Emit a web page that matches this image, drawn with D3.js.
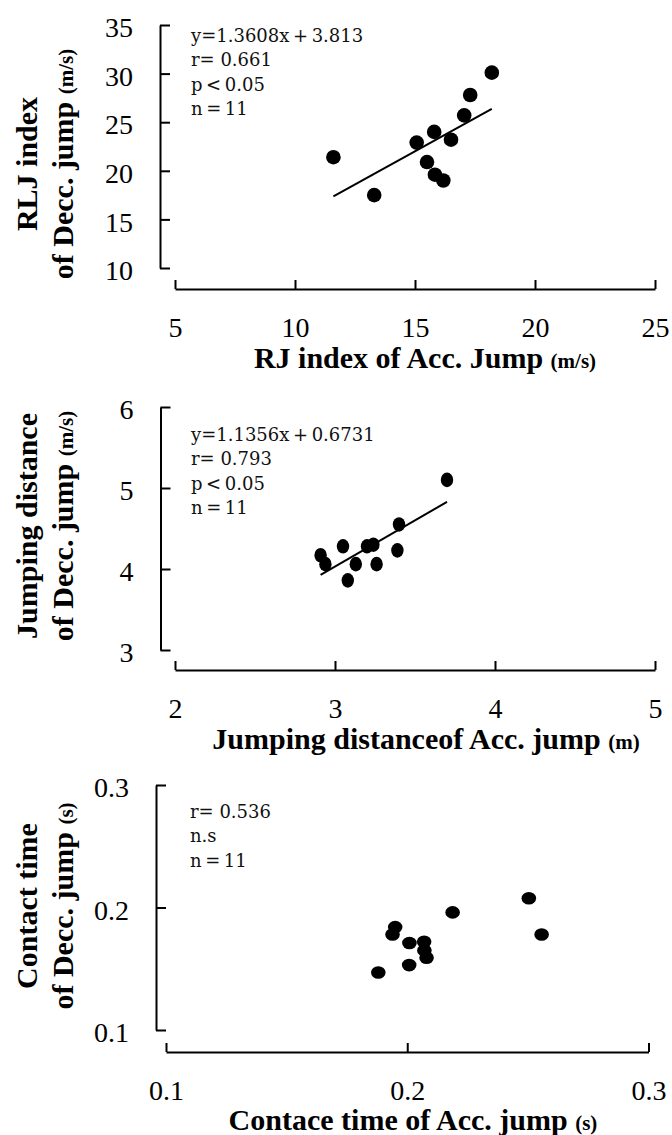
<!DOCTYPE html>
<html>
<head>
<meta charset="utf-8">
<script src="https://cdn.jsdelivr.net/npm/d3@7"></script>
<style>
  html, body { margin: 0; padding: 0; background: #fff; }
  svg { display: block; }
</style>
</head>
<body>
<svg id="chart" width="672" height="1135"></svg>
<script>
// ---------------- DATA ----------------
// Panel 1: RJ index (Acc. jump) vs RLJ index (Decc. jump), m/s
const rjAcc   = [11.6, 13.3, 15.07, 15.8, 16.5, 15.5, 15.83, 16.18, 17.05, 17.3, 18.2];
const rljDecc = [21.4, 17.5, 22.9, 24.0, 23.2, 20.9, 19.6, 19.0, 25.7, 27.8, 30.1];
// Panel 2: Jumping distance (Acc. jump) vs (Decc. jump)
const distAcc  = [3.70, 3.40, 3.39, 3.24, 3.20, 3.05, 2.91, 2.94, 3.13, 3.26, 3.08];
const distDecc = [5.10, 4.55, 4.23, 4.30, 4.28, 4.28, 4.17, 4.06, 4.06, 4.06, 3.86];
// Panel 3: Contact time (Acc. jump) vs (Decc. jump), s
const ctAcc  = [0.188, 0.2008, 0.1939, 0.195, 0.2009, 0.207, 0.2071, 0.208, 0.2188, 0.2557, 0.2504];
const ctDecc = [0.147, 0.153, 0.178, 0.184, 0.171, 0.172, 0.165, 0.159, 0.196, 0.178, 0.2075];

// Tick labels
const p1XTicks = ["5", "10", "15", "20", "25"];
const p1YTicks = ["10", "15", "20", "25", "30", "35"];
const p2XTicks = ["2", "3", "4", "5"];
const p2YTicks = ["3", "4", "5", "6"];
const p3XTicks = ["0.1", "0.2", "0.3"];
const p3YTicks = ["0.1", "0.2", "0.3"];

// Statistics text
const p1Stats = ["y=1.3608x\u2009+\u20093.813", "r= 0.661", "p\u2009<\u20090.05", "n\u2009=\u200911"];
const p2Stats = ["y=1.1356x\u2009+\u20090.6731", "r= 0.793", "p\u2009<\u20090.05", "n\u2009=\u200911"];
const p3Stats = ["r= 0.536", "n.s", "n\u2009=\u200911"];

// Axis titles
const p1XTitle = ["RJ index of Acc. Jump", "(m/s)"];
const p1YTitle = ["RLJ index", "of Decc. jump", "(m/s)"];
const p2XTitle = ["Jumping distanceof Acc. jump", "(m)"];
const p2YTitle = ["Jumping distance", "of Decc. jump", "(m/s)"];
const p3XTitle = ["Contace time of Acc. jump", "(s)"];
const p3YTitle = ["Contact time", "of Decc. jump", "(s)"];

// ---------------- LAYOUT ----------------
const panels = [
  { xs: rjAcc, ys: rljDecc, xTicks: p1XTicks, yTicks: p1YTicks, stats: p1Stats,
    xTitle: p1XTitle, yTitle: p1YTitle, fit: true,
    yAxisX: 160, yRange: [268, 25], xAxisY: 289, xRange: [175, 655],
    statX: 191, statY: 42, xTitleX: 425, xTitleY: 368, yTitleCY: 164,
    rx: 7.3, ry: 7.3 },
  { xs: distAcc, ys: distDecc, xTicks: p2XTicks, yTicks: p2YTicks, stats: p2Stats,
    xTitle: p2XTitle, yTitle: p2YTitle, fit: true,
    yAxisX: 160.5, yRange: [650, 407], xAxisY: 670, xRange: [175, 655],
    statX: 191, statY: 441, xTitleX: 426, xTitleY: 749, yTitleCY: 526,
    rx: 6.2, ry: 7.3 },
  { xs: ctAcc, ys: ctDecc, xTicks: p3XTicks, yTicks: p3YTicks, stats: p3Stats,
    xTitle: p3XTitle, yTitle: p3YTitle, fit: false,
    yAxisX: 156, yRange: [1030, 785], xAxisY: 1052, xRange: [166, 648.5],
    statX: 190, statY: 818, xTitleX: 413, xTitleY: 1130, yTitleCY: 906,
    rx: 7.3, ry: 6.3 }
];

const svg = d3.select("#chart");
svg.append("rect").attr("width", 672).attr("height", 1135).attr("fill", "#fff");

const tickFont = "'Liberation Serif', 'Times New Roman', serif";

panels.forEach(p => {
  const xVals = p.xTicks.map(Number), yVals = p.yTicks.map(Number);
  const x = d3.scaleLinear().domain(d3.extent(xVals)).range(p.xRange);
  const y = d3.scaleLinear().domain(d3.extent(yVals)).range(p.yRange);
  const g = svg.append("g");

  // Y axis (ticks inward)
  const yAxis = d3.axisLeft(y).tickValues(yVals)
    .tickFormat((d, i) => p.yTicks[i])
    .tickSizeInner(-10).tickSizeOuter(0).tickPadding(27);
  const ya = g.append("g").attr("transform", `translate(${p.yAxisX},0)`).call(yAxis);

  // X axis (ticks inward / up)
  const xAxis = d3.axisBottom(x).tickValues(xVals)
    .tickFormat((d, i) => p.xTicks[i])
    .tickSizeInner(-9).tickSizeOuter(0).tickPadding(28);
  const xa = g.append("g").attr("transform", `translate(0,${p.xAxisY})`).call(xAxis);

  [ya, xa].forEach(a => {
    a.select(".domain").attr("stroke", "#000").attr("stroke-width", 2);
    a.selectAll(".tick line").attr("stroke", "#000").attr("stroke-width", 2);
    a.selectAll(".tick text").attr("fill", "#000")
      .style("font-family", tickFont).style("font-size", "28px");
  });
  ya.selectAll(".tick text").attr("dy", "0.42em");

  // Regression line (least squares from data)
  if (p.fit) {
    const mx = d3.mean(p.xs), my = d3.mean(p.ys);
    const b = d3.sum(p.xs, (v, i) => (v - mx) * (p.ys[i] - my)) / d3.sum(p.xs, v => (v - mx) ** 2);
    const a = my - b * mx;
    const [x0, x1] = d3.extent(p.xs);
    g.append("line")
      .attr("x1", x(x0)).attr("y1", y(a + b * x0))
      .attr("x2", x(x1)).attr("y2", y(a + b * x1))
      .attr("stroke", "#000").attr("stroke-width", 2);
  }

  // Points
  g.selectAll("ellipse.pt").data(p.xs.map((v, i) => [v, p.ys[i]])).join("ellipse")
    .attr("class", "pt")
    .attr("cx", d => x(d[0])).attr("cy", d => y(d[1]))
    .attr("rx", p.rx).attr("ry", p.ry).attr("fill", "#000");

  // Stats text
  g.selectAll("text.stat").data(p.stats).join("text")
    .attr("class", "stat")
    .attr("x", p.statX).attr("y", (d, i) => p.statY + i * 24.4)
    .style("font-family", "'DejaVu Serif', serif").style("font-size", "18px")
    .attr("fill", "#111").text(d => d);

  // X title
  const xt = g.append("text").attr("x", p.xTitleX).attr("y", p.xTitleY)
    .attr("text-anchor", "middle").style("font-family", tickFont)
    .style("font-weight", "bold").attr("fill", "#000");
  xt.append("tspan").style("font-size", "30px").text(p.xTitle[0] + " ");
  xt.append("tspan").style("font-size", "21px").text(p.xTitle[1]);

  // Y title (two lines, rotated)
  g.append("text")
    .attr("transform", `translate(37,${p.yTitleCY}) rotate(-90)`)
    .attr("text-anchor", "middle").style("font-family", tickFont)
    .style("font-weight", "bold").style("font-size", "30px").attr("fill", "#000")
    .text(p.yTitle[0]);
  const yt2 = g.append("text")
    .attr("transform", `translate(73,${p.yTitleCY}) rotate(-90)`)
    .attr("text-anchor", "middle").style("font-family", tickFont)
    .style("font-weight", "bold").attr("fill", "#000");
  yt2.append("tspan").style("font-size", "30px").text(p.yTitle[1] + " ");
  yt2.append("tspan").style("font-size", "21px").text(p.yTitle[2]);
});
</script>
</body>
</html>
